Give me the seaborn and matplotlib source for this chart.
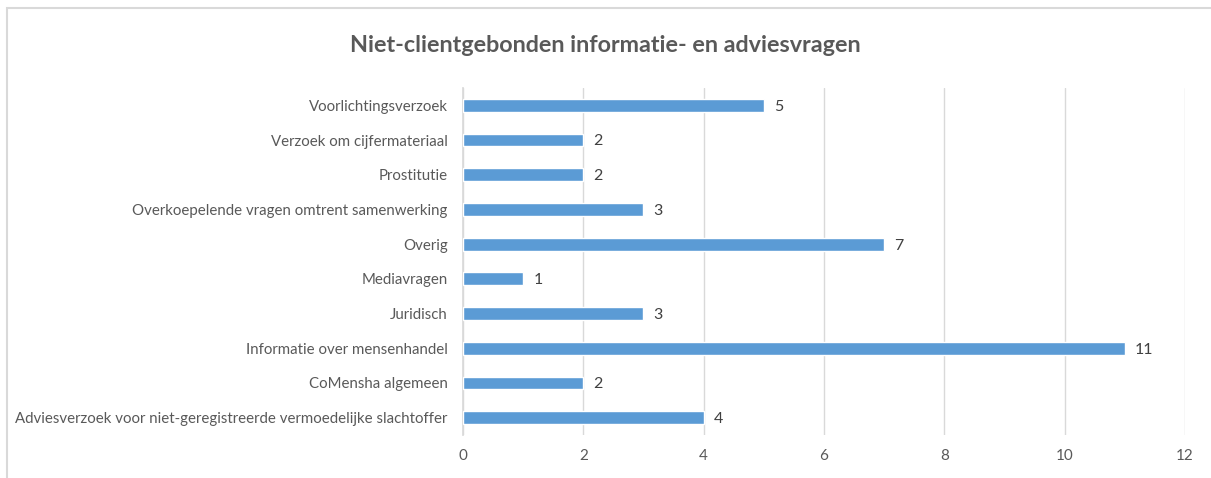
import matplotlib
matplotlib.use("Agg")
import matplotlib.pyplot as plt
import pandas as pd
import seaborn as sns

sns.set_theme(style="white")
plt.rcParams['font.family'] = ['Lato', 'DejaVu Sans']

categories = [
    "Voorlichtingsverzoek",
    "Verzoek om cijfermateriaal",
    "Prostitutie",
    "Overkoepelende vragen omtrent samenwerking",
    "Overig",
    "Mediavragen",
    "Juridisch",
    "Informatie over mensenhandel",
    "CoMensha algemeen",
    "Adviesverzoek voor niet-geregistreerde vermoedelijke slachtoffer",
]
values = [5, 2, 2, 3, 7, 1, 3, 11, 2, 4]
xticks = [0, 2, 4, 6, 8, 10, 12]

data = pd.DataFrame({"categorie": categories, "aantal": values})

fig = plt.figure(figsize=(12.11, 4.78), dpi=100)
ax = fig.add_axes([0.3823, 0.090, 0.5962, 0.726])

sns.barplot(data=data, y="categorie", x="aantal", color="#5B9BD5",
            width=0.37, saturation=1, ax=ax, zorder=3)

ax.set_xlim(0, 12)
ax.set_xticks(xticks)
ax.set_ylim(9.5, -0.5)
ax.xaxis.grid(True, color="#D9D9D9", linewidth=1, zorder=0)
ax.yaxis.grid(False)
for s in ["top", "right", "bottom"]:
    ax.spines[s].set_visible(False)
ax.spines["left"].set_color("#D9D9D9")
ax.set_xlabel("")
ax.set_ylabel("")
ax.tick_params(axis="y", length=0, labelsize=10.8, labelcolor="#595959", pad=11)
ax.tick_params(axis="x", length=0, labelsize=11, labelcolor="#595959", pad=10)

for i, v in enumerate(values):
    ax.text(v + 0.17, i + 0.04, str(v), va="center", ha="left", fontsize=11.5, color="#404040")

fig.text(0.5, 0.905, "Niet-clientgebonden informatie- en adviesvragen",
         ha="center", va="center", fontsize=16.8, fontweight="bold", color="#595959")

# light border like the spreadsheet chart frame
fig.patches.append(plt.Rectangle((0.006, -0.01), 1.0, 0.993, transform=fig.transFigure,
                                 fill=False, edgecolor="#D9D9D9", linewidth=1.5))

fig.savefig("out.png", dpi=100)
